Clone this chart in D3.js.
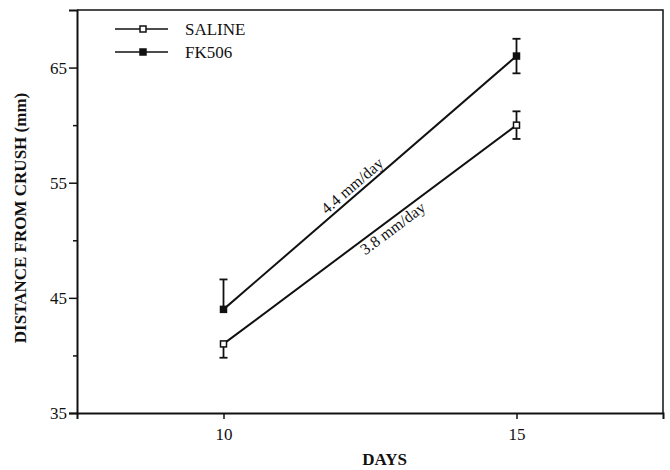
<!DOCTYPE html>
<meta charset="utf-8">
<title>Distance from crush</title>
<script src="https://d3js.org/d3.v7.min.js"></script>
<style>
body { margin: 0; background: #fff; }
text { font-family: "Liberation Serif", "Times New Roman", serif; fill: #111; }
.axis-title { font-weight: bold; font-size: 17px; }
</style>
<body>
<div id="chart"></div>
<script>
// values
var days = [10, 15];
var salineMean = [41, 60];
var salineErrUp = [0, 1.2];
var salineErrDown = [1.2, 1.2];
var fkMean = [44, 66];
var fkErrUp = [2.6, 1.5];
var fkErrDown = [0, 1.5];
var seriesNames = ["SALINE", "FK506"];
var rateLabels = ["4.4 mm/day", "3.8 mm/day"];
var rateLabelDay = [12.3, 12.8];
var yTicks = [35, 45, 55, 65];
var yMinor = [40, 50, 60];
var xTicks = [10, 15];

var W = 670, H = 470;
var margin = {top: 10, right: 7, bottom: 57, left: 77},
    width = W - margin.left - margin.right,
    height = H - margin.top - margin.bottom;

var svg = d3.select("#chart")
  .append("svg")
    .attr("width", W)
    .attr("height", H)
  .append("g")
    .attr("transform", "translate(" + margin.left + "," + margin.top + ")");

var x = d3.scaleLinear().domain([7.5, 17.5]).range([0, width]);
var y = d3.scaleLinear().domain([35, 70]).range([height, 0]);

// frame (top and right)
svg.append("path")
  .attr("d", "M0,0H" + width + "V" + height)
  .attr("fill", "none")
  .attr("stroke", "#111")
  .attr("stroke-width", 1.5);

// Y axis
svg.append("g")
  .attr("font-family", null)
  .call(d3.axisLeft(y).tickValues(yTicks).tickSize(8).tickPadding(2));
svg.append("g")
  .call(d3.axisLeft(y).tickValues(yMinor).tickSize(4).tickFormat(""))
  .select(".domain").remove();

// X axis
svg.append("g")
  .attr("transform", "translate(0," + height + ")")
  .call(d3.axisBottom(x).tickValues(xTicks).tickSize(6).tickPadding(9));

svg.selectAll(".tick text")
  .attr("font-family", "Liberation Serif")
  .style("font-family", "'Liberation Serif', 'Times New Roman', serif")
  .style("font-size", "17px")
  .attr("fill", "#111");
svg.selectAll(".domain").attr("stroke", "#111").attr("stroke-width", 2);
svg.selectAll(".tick line").attr("stroke", "#111").attr("stroke-width", 1.5);

// axis titles
svg.append("text")
  .attr("class", "axis-title")
  .attr("x", x(12.75))
  .attr("y", height + 52)
  .attr("text-anchor", "middle")
  .text("DAYS");
svg.append("text")
  .attr("class", "axis-title")
  .attr("transform", "rotate(-90)")
  .attr("x", -208)
  .attr("y", -51)
  .attr("text-anchor", "middle")
  .text("DISTANCE FROM CRUSH (mm)");

var series = [
  {name: seriesNames[0], mean: salineMean, up: salineErrUp, down: salineErrDown, fill: "#fff"},
  {name: seriesNames[1], mean: fkMean, up: fkErrUp, down: fkErrDown, fill: "#111"}
];

var line = d3.line()
  .x(function(d) { return x(d[0]); })
  .y(function(d) { return y(d[1]); });

series.forEach(function(s) {
  var pts = days.map(function(d, i) { return [d, s.mean[i]]; });
  svg.append("path")
    .datum(pts)
    .attr("d", line)
    .attr("fill", "none")
    .attr("stroke", "#111")
    .attr("stroke-width", 2);

  // error bars (one-sided where the figure shows only one side)
  days.forEach(function(d, i) {
    var cx = x(d);
    var parts = [[s.mean[i], s.mean[i] + s.up[i], s.up[i]], [s.mean[i], s.mean[i] - s.down[i], s.down[i]]];
    parts.forEach(function(p) {
      if (p[2] <= 0) return;
      svg.append("line")
        .attr("x1", cx).attr("x2", cx)
        .attr("y1", y(p[0])).attr("y2", y(p[1]))
        .attr("stroke", "#111").attr("stroke-width", 1.8);
      svg.append("line")
        .attr("x1", cx - 4).attr("x2", cx + 4)
        .attr("y1", y(p[1])).attr("y2", y(p[1]))
        .attr("stroke", "#111").attr("stroke-width", 1.8);
    });
  });

  svg.selectAll(null)
    .data(pts)
    .enter()
    .append("rect")
      .attr("x", function(d) { return x(d[0]) - 3; })
      .attr("y", function(d) { return y(d[1]) - 3; })
      .attr("width", 6)
      .attr("height", 6)
      .attr("fill", s.fill)
      .attr("stroke", "#111")
      .attr("stroke-width", 1.5);
});

// slope labels along the lines
[fkMean, salineMean].forEach(function(m, i) {
  var x0 = x(days[0]), y0 = y(m[0]), x1 = x(days[1]), y1 = y(m[1]);
  var ang = Math.atan2(y1 - y0, x1 - x0) * 180 / Math.PI;
  var t = (rateLabelDay[i] - days[0]) / (days[1] - days[0]);
  var px = x0 + t * (x1 - x0), py = y0 + t * (y1 - y0);
  svg.append("text")
    .attr("transform", "translate(" + px + "," + py + ") rotate(" + ang + ")")
    .attr("text-anchor", "middle")
    .attr("dy", i === 0 ? -4 : 14)
    .style("font-size", "16px")
    .text(rateLabels[i]);
});

// legend
var legend = svg.append("g").attr("transform", "translate(38,19)");
series.forEach(function(s, i) {
  var g = legend.append("g").attr("transform", "translate(0," + (i * 23) + ")");
  g.append("line")
    .attr("x1", 0).attr("x2", 53)
    .attr("stroke", "#111").attr("stroke-width", 1.5);
  g.append("rect")
    .attr("x", 25).attr("y", -3)
    .attr("width", 6).attr("height", 6)
    .attr("fill", s.fill)
    .attr("stroke", "#111")
    .attr("stroke-width", 1.5);
  g.append("text")
    .attr("x", 70)
    .attr("dy", "0.35em")
    .style("font-size", "17px")
    .text(s.name);
});
</script>
</body>
